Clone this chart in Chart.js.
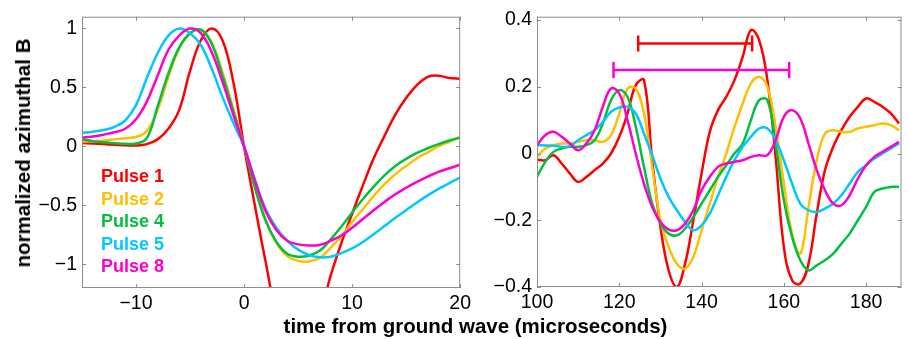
<!DOCTYPE html>
<html>
<head>
<meta charset="utf-8">
<script src="https://cdn.jsdelivr.net/npm/chart.js@4.4.1/dist/chart.umd.min.js"></script>
<style>
  html, body { margin: 0; padding: 0; background: #fff; overflow: hidden; }
  #wrap { position: relative; width: 909px; height: 339px; }
  #left { position: absolute; left: 0; top: 0; }
  #right { position: absolute; left: 470px; top: 0; }
  .title { position: absolute; font: bold 20.5px "Liberation Sans", Arial, sans-serif; color: #000; white-space: nowrap; }
  #xTitle { left: 475.5px; top: 314px; transform: translateX(-50%); }
  #yTitle { left: 22.5px; top: 152.5px; transform: translate(-50%, -50%) rotate(-90deg); }
</style>
</head>
<body>
<div id="wrap">
  <canvas id="left" width="475" height="339"></canvas>
  <canvas id="right" width="442" height="339"></canvas>
  <div class="title" id="yTitle">normalized azimuthal B</div>
  <div class="title" id="xTitle">time from ground wave (microseconds)</div>
</div>
<script>
// series names and colours
const pulseNames = ["Pulse 1", "Pulse 2", "Pulse 4", "Pulse 5", "Pulse 8"];
const pulseColors = ["#ff0000", "#ffbf00", "#00c040", "#00c8ff", "#ff00cc"];

// left panel: -15..20 microseconds, step 1
const timeLeft = [-15, -14, -13, -12, -11, -10, -9, -8, -7, -6, -5, -4, -3, -2, -1, 0,
  1, 2, 3, 4, 5, 6, 7, 8, 9, 10, 11, 12, 13, 14, 15, 16, 17, 18, 19, 20];
const pulse1Left = [0.03, 0.025, 0.02, 0.015, 0.01, 0.008, 0.02, 0.06, 0.15, 0.31, 0.64, 0.9, 1.0, 0.9, 0.55, 0.0,
  -0.5, -0.98, -1.42, -1.62, -1.68, -1.62, -1.43, -1.1, -0.82, -0.57, -0.33, -0.1, 0.09, 0.27, 0.41, 0.52, 0.59, 0.6, 0.58, 0.575];
const pulse2Left = [0.04, 0.045, 0.05, 0.06, 0.07, 0.08, 0.13, 0.31, 0.59, 0.83, 0.96, 0.99, 0.88, 0.63, 0.32, 0.0,
  -0.33, -0.62, -0.82, -0.93, -0.97, -0.975, -0.945, -0.86, -0.76, -0.64, -0.53, -0.42, -0.32, -0.235, -0.165, -0.1, -0.05, 0.0, 0.04, 0.08];
const pulse4Left = [0.06, 0.045, 0.035, 0.028, 0.022, 0.025, 0.07, 0.34, 0.62, 0.84, 0.96, 0.99, 0.87, 0.6, 0.3, 0.0,
  -0.35, -0.63, -0.81, -0.91, -0.935, -0.925, -0.885, -0.79, -0.68, -0.56, -0.445, -0.34, -0.245, -0.165, -0.105, -0.055, -0.015, 0.02, 0.05, 0.075];
const pulse5Left = [0.115, 0.125, 0.14, 0.165, 0.22, 0.35, 0.58, 0.79, 0.94, 1.0, 0.96, 0.86, 0.66, 0.42, 0.2, 0.0,
  -0.28, -0.53, -0.69, -0.8, -0.875, -0.92, -0.94, -0.935, -0.905, -0.865, -0.81, -0.745, -0.675, -0.605, -0.54, -0.475, -0.415, -0.36, -0.31, -0.265];
const pulse8Left = [0.075, 0.085, 0.1, 0.12, 0.15, 0.23, 0.38, 0.6, 0.82, 0.94, 1.0, 0.96, 0.8, 0.55, 0.27, 0.0,
  -0.29, -0.55, -0.71, -0.8, -0.83, -0.84, -0.835, -0.8, -0.755, -0.69, -0.615, -0.54, -0.47, -0.405, -0.35, -0.3, -0.255, -0.215, -0.185, -0.155];

// right panel: 100..188 microseconds, step 2
const timeRight = [100, 102, 104, 106, 108, 110, 112, 114, 116, 118, 120, 122, 124, 126, 128, 130, 132, 134, 136, 138,
  140, 142, 144, 146, 148, 150, 152, 154, 156, 158, 160, 162, 164, 166, 168, 170, 172, 174, 176, 178, 180, 182, 184, 186, 188];
const pulse1Right = [-0.018, -0.02, -0.005, -0.03, -0.06, -0.085, -0.07, -0.05, -0.03, 0.0, 0.05, 0.12, 0.205, 0.22, -0.02, -0.22, -0.35, -0.4, -0.33, -0.2,
  -0.06, 0.065, 0.13, 0.17, 0.22, 0.29, 0.37, 0.34, 0.22, -0.01, -0.28, -0.38, -0.39, -0.33, -0.18, -0.05, 0.02, 0.07, 0.11, 0.14, 0.165, 0.155, 0.14, 0.12, 0.09];
const pulse2Right = [-0.01, 0.015, 0.025, 0.03, 0.03, 0.035, 0.04, 0.04, 0.035, 0.055, 0.12, 0.195, 0.195, 0.12, -0.04, -0.2, -0.28, -0.33, -0.345, -0.31,
  -0.23, -0.15, -0.07, 0.0, 0.08, 0.15, 0.21, 0.23, 0.2, 0.08, -0.09, -0.24, -0.3, -0.16, -0.02, 0.06, 0.07, 0.065, 0.065, 0.075, 0.08, 0.085, 0.09, 0.085, 0.07];
const pulse4Right = [-0.07, -0.025, 0.005, 0.015, 0.02, 0.02, 0.025, 0.04, 0.09, 0.16, 0.19, 0.17, 0.08, -0.04, -0.15, -0.21, -0.24, -0.245, -0.225, -0.19,
  -0.15, -0.11, -0.07, -0.035, 0.0, 0.03, 0.1, 0.16, 0.16, 0.03, -0.14, -0.25, -0.32, -0.35, -0.335, -0.32, -0.3, -0.27, -0.24, -0.2, -0.16, -0.115, -0.105, -0.1, -0.1];
const pulse5Right = [0.025, 0.024, 0.023, 0.02, 0.022, 0.04, 0.055, 0.07, 0.095, 0.125, 0.138, 0.14, 0.12, 0.06, -0.005, -0.075, -0.13, -0.17, -0.205, -0.23,
  -0.215, -0.18, -0.125, -0.07, -0.02, 0.02, 0.05, 0.075, 0.075, 0.04, -0.02, -0.09, -0.15, -0.17, -0.175, -0.165, -0.15, -0.125, -0.09, -0.055, -0.035, -0.015, 0.0, 0.015, 0.03];
const pulse8Right = [0.025, 0.055, 0.065, 0.05, 0.03, 0.01, 0.03, 0.07, 0.14, 0.195, 0.18, 0.1, 0.0, -0.09, -0.16, -0.205, -0.228, -0.23, -0.21, -0.17,
  -0.11, -0.07, -0.04, -0.03, -0.025, -0.02, -0.01, -0.005, -0.005, 0.04, 0.11, 0.13, 0.105, 0.03, -0.05, -0.11, -0.15, -0.155, -0.125, -0.075, -0.035, -0.01, 0.005, 0.02, 0.035];

// span markers in the right panel (Pulse 1 and Pulse 8)
const spanColors = ["#ff0000", "#ff00cc"];
const spanStart = [124.6, 118.6];
const spanEnd = [152.3, 161.3];
const spanLevel = [0.33, 0.25];

// tick labels
const leftXTicks = [-10, 0, 10, 20];
const leftYTicks = [-1, -0.5, 0, 0.5, 1];
const rightXTicks = [100, 120, 140, 160, 180];
const rightYTicks = [-0.4, -0.2, 0, 0.2, 0.4];

const leftSeries = [pulse1Left, pulse2Left, pulse4Left, pulse5Left, pulse8Left];
const rightSeries = [pulse1Right, pulse2Right, pulse4Right, pulse5Right, pulse8Right];

const FONT = '"Liberation Sans", Arial, sans-serif';
const toMinus = (v) => String(v).replace("-", "\u2212");

// box with inward ticks, like a MATLAB axes
const matlabAxes = {
  id: "matlabAxes",
  afterDatasetsDraw(chart) {
    const { ctx, chartArea: a, scales } = chart;
    ctx.save();
    ctx.strokeStyle = "#8c8c8c";
    ctx.lineWidth = 1;
    ctx.strokeRect(a.left + 0.5, a.top + 0.5, a.right - a.left - 1, a.bottom - a.top - 1);
    ctx.beginPath();
    scales.x.ticks.forEach((t) => {
      const px = Math.round(scales.x.getPixelForValue(t.value)) + 0.5;
      ctx.moveTo(px, a.bottom); ctx.lineTo(px, a.bottom - 4);
      ctx.moveTo(px, a.top); ctx.lineTo(px, a.top + 4);
    });
    scales.y.ticks.forEach((t) => {
      const py = Math.round(scales.y.getPixelForValue(t.value)) + 0.5;
      ctx.moveTo(a.left, py); ctx.lineTo(a.left + 4, py);
      ctx.moveTo(a.right, py); ctx.lineTo(a.right - 4, py);
    });
    ctx.stroke();
    ctx.restore();
  },
};

// coloured text legend inside the left axes
const pulseLegend = {
  id: "pulseLegend",
  afterDraw(chart) {
    const ctx = chart.ctx;
    ctx.save();
    ctx.font = "bold 18px " + FONT;
    ctx.textBaseline = "middle";
    chart.data.datasets.forEach((ds, i) => {
      ctx.fillStyle = ds.borderColor;
      ctx.fillText(ds.label, 101, 177 + i * 22.6);
    });
    ctx.restore();
  },
};

function seriesDatasets(times, series) {
  return series.map((vals, i) => ({
    label: pulseNames[i],
    data: times.map((t, j) => ({ x: t, y: vals[j] })),
    borderColor: pulseColors[i],
    borderWidth: 2.5,
    pointRadius: 0,
    tension: 0.4,
    order: 10 - i,
  }));
}

function axes(xMin, xMax, xTicks, yMin, yMax, yTicks, yWidth, xHeight) {
  const common = {
    grid: { display: false, drawTicks: false },
    border: { display: false },
  };
  return {
    x: {
      ...common,
      type: "linear",
      min: xMin,
      max: xMax,
      afterBuildTicks: (s) => { s.ticks = xTicks.map((v) => ({ value: v })); },
      afterFit: (s) => { s.height = xHeight; },
      ticks: { color: "#000", font: { family: FONT, size: 19.5 }, padding: 4, maxRotation: 0, autoSkip: false, callback: toMinus },
    },
    y: {
      ...common,
      min: yMin,
      max: yMax,
      afterBuildTicks: (s) => { s.ticks = yTicks.map((v) => ({ value: v })); },
      afterFit: (s) => { s.width = yWidth; },
      ticks: { color: "#000", font: { family: FONT, size: 19.5 }, padding: 5, autoSkip: false, callback: toMinus },
    },
  };
}

const baseOptions = {
  responsive: false,
  animation: false,
  events: [],
  plugins: { legend: { display: false }, tooltip: { enabled: false } },
};

new Chart(document.getElementById("left"), {
  type: "line",
  data: { datasets: seriesDatasets(timeLeft, leftSeries) },
  options: {
    ...baseOptions,
    layout: { padding: { left: 0, right: 12, top: 15, bottom: 0 } },
    scales: axes(-15, 20, leftXTicks, -1.2, 1.1, leftYTicks, 82, 51),
  },
  plugins: [matlabAxes, pulseLegend],
});

const spanDatasets = spanStart.map((s, i) => ({
  label: "span " + i,
  data: [{ x: s, y: spanLevel[i] }, { x: spanEnd[i], y: spanLevel[i] }],
  borderColor: spanColors[i],
  borderWidth: 2.5,
  pointStyle: "line",
  pointRotation: 90,
  pointRadius: 8,
  pointBorderWidth: 2.5,
  pointBorderColor: spanColors[i],
  tension: 0,
  order: 0,
}));

new Chart(document.getElementById("right"), {
  type: "line",
  data: { datasets: seriesDatasets(timeRight, rightSeries).concat(spanDatasets) },
  options: {
    ...baseOptions,
    layout: { padding: { left: 0, right: 1, top: 16, bottom: 0 } },
    scales: axes(100, 188.6, rightXTicks, -0.4, 0.41, rightYTicks, 67, 52),
  },
  plugins: [matlabAxes],
});
</script>
</body>
</html>
